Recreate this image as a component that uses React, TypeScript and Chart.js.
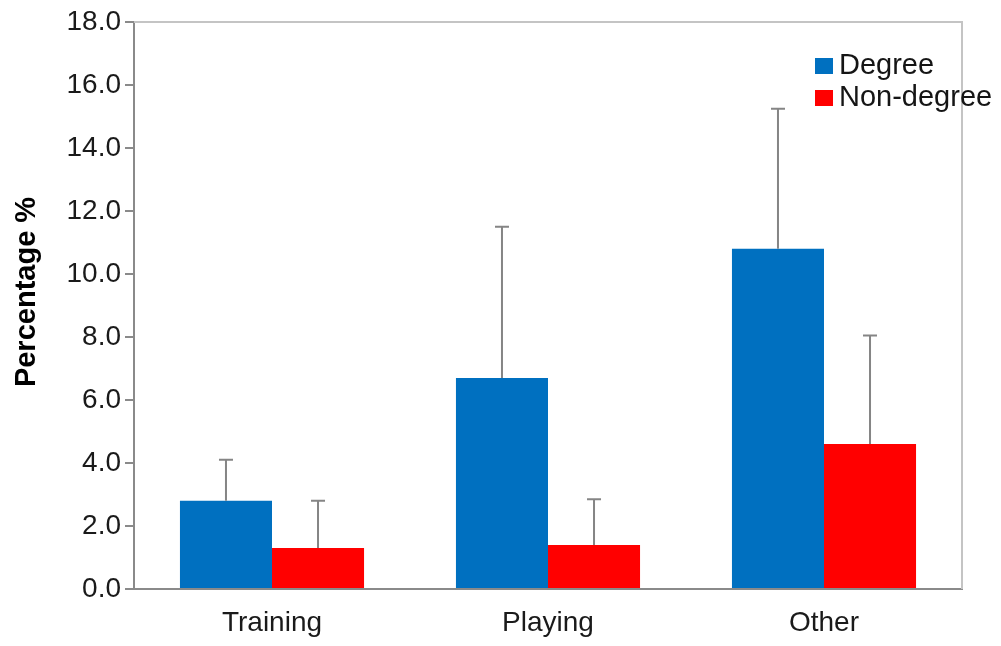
import React, { useEffect, useRef } from "react";
import { Chart, registerables } from "chart.js";

Chart.register(...registerables);

const categories = ["Training", "Playing", "Other"];
const degreeValues = [2.8, 6.7, 10.8];
const nonDegreeValues = [1.3, 1.4, 4.6];
const degreeErrors = [1.3, 4.8, 4.45];
const nonDegreeErrors = [1.5, 1.45, 3.45];
const seriesLabels = ["Degree", "Non-degree"];
const yTicks = [0, 2, 4, 6, 8, 10, 12, 14, 16, 18];
const yTitle = "Percentage %";

const FONT = "'Liberation Sans', Arial, sans-serif";

const errorBarPlugin = {
  id: "errorBars",
  afterDatasetsDraw(chart: any) {
    const ctx = chart.ctx;
    const y = chart.scales.y;
    ctx.save();
    ctx.strokeStyle = "#858585";
    ctx.lineWidth = 2;
    chart.data.datasets.forEach((ds: any, di: number) => {
      const meta = chart.getDatasetMeta(di);
      meta.data.forEach((bar: any, i: number) => {
        const v = ds.data[i];
        const e = ds.errors[i];
        const yTop = y.getPixelForValue(v + e);
        ctx.beginPath();
        ctx.moveTo(bar.x, bar.y);
        ctx.lineTo(bar.x, yTop);
        ctx.moveTo(bar.x - 7, yTop);
        ctx.lineTo(bar.x + 7, yTop);
        ctx.stroke();
      });
    });
    ctx.restore();
  },
};

const framePlugin = {
  id: "frame",
  beforeDatasetsDraw(chart: any) {
    const { ctx, chartArea } = chart;
    ctx.save();
    ctx.strokeStyle = "#c4c4c4";
    ctx.lineWidth = 2;
    ctx.beginPath();
    ctx.moveTo(chartArea.left, chartArea.top);
    ctx.lineTo(chartArea.right, chartArea.top);
    ctx.lineTo(chartArea.right, chartArea.bottom);
    ctx.stroke();
    ctx.restore();
  },
};

const titlePlugin = {
  id: "yTitle",
  afterDraw(chart: any) {
    const ctx = chart.ctx;
    ctx.save();
    ctx.translate(27, 292);
    ctx.rotate(-Math.PI / 2);
    ctx.font = `bold 29px ${FONT}`;
    ctx.fillStyle = "#000";
    ctx.textAlign = "center";
    ctx.textBaseline = "middle";
    ctx.fillText(yTitle, 0, 0);
    ctx.restore();
  },
};

const legendPlugin = {
  id: "insideLegend",
  afterDraw(chart: any) {
    const ctx = chart.ctx;
    ctx.save();
    ctx.font = `29px ${FONT}`;
    ctx.textBaseline = "middle";
    ctx.textAlign = "left";
    chart.data.datasets.forEach((ds: any, i: number) => {
      const cy = 66 + i * 32;
      ctx.fillStyle = ds.backgroundColor;
      ctx.fillRect(815, cy - 8, 18, 16);
      ctx.fillStyle = "#151515";
      ctx.fillText(ds.label, 839, cy);
    });
    ctx.restore();
  },
};

export default function App() {
  const ref = useRef<HTMLCanvasElement | null>(null);

  useEffect(() => {
    if (!ref.current) return;
    Chart.defaults.font.family = FONT;
    const chart = new Chart(ref.current, {
      type: "bar",
      data: {
        labels: categories,
        datasets: [
          {
            label: seriesLabels[0],
            data: degreeValues,
            errors: degreeErrors,
            backgroundColor: "#0070C0",
            barPercentage: 1.0,
            categoryPercentage: 0.667,
          } as any,
          {
            label: seriesLabels[1],
            data: nonDegreeValues,
            errors: nonDegreeErrors,
            backgroundColor: "#FF0000",
            barPercentage: 1.0,
            categoryPercentage: 0.667,
          } as any,
        ],
      },
      options: {
        responsive: false,
        animation: false,
        devicePixelRatio: 1,
        layout: { padding: { top: 22, right: 39, left: 0, bottom: 0 } },
        plugins: {
          legend: { display: false },
          tooltip: { enabled: false },
        },
        scales: {
          x: {
            grid: { display: false },
            border: { display: true, color: "#8a8a8a", width: 2 },
            ticks: {
              color: "#1a1a1a",
              font: { size: 28 },
              padding: 9,
            },
            afterFit: (s: any) => {
              s.height = 57;
            },
          },
          y: {
            min: 0,
            max: 18,
            afterBuildTicks: (s: any) => {
              s.ticks = yTicks.map((v) => ({ value: v }));
            },
            grid: {
              display: true,
              drawOnChartArea: false,
              drawTicks: true,
              tickLength: 9,
              color: "#8a8a8a",
              lineWidth: 2,
            },
            border: { display: true, color: "#8a8a8a", width: 2 },
            ticks: {
              color: "#1a1a1a",
              font: { size: 28 },
              padding: 4,
              callback: (v: any) => Number(v).toFixed(1),
            },
            title: { display: false },
            afterFit: (s: any) => {
              s.width = 134;
            },
          },
        },
      },
      plugins: [framePlugin, errorBarPlugin, legendPlugin, titlePlugin],
    } as any);
    return () => chart.destroy();
  }, []);

  return (
    <div style={{ position: "absolute", left: 0, top: 0, width: 1001, height: 646, background: "#fff" }}>
      <canvas ref={ref} width={1001} height={646} style={{ width: 1001, height: 646 }} />
    </div>
  );
}
